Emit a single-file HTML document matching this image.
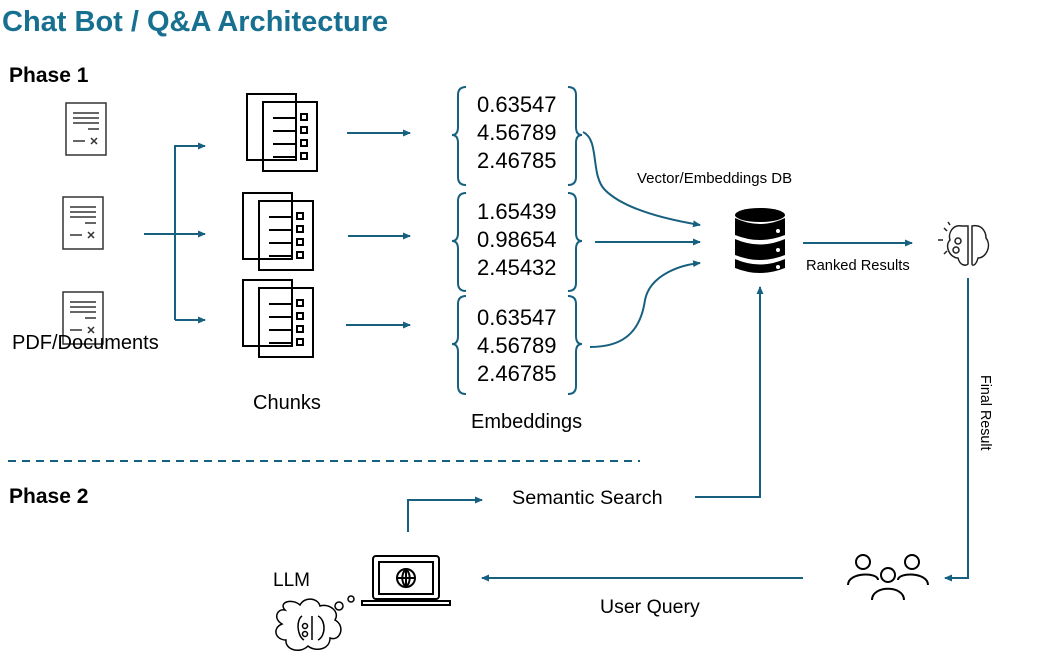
<!DOCTYPE html>
<html><head><meta charset="utf-8"><style>
body{margin:0;background:#fff;width:1041px;height:665px;overflow:hidden;font-family:"Liberation Sans",sans-serif}
</style></head><body>
<svg width="1041" height="665" viewBox="0 0 1041 665" xmlns="http://www.w3.org/2000/svg" font-family="Liberation Sans, sans-serif">
<defs>
<marker id="a" markerWidth="8" markerHeight="8" refX="7" refY="4" orient="auto" markerUnits="userSpaceOnUse"><path d="M0,0.5 L8,4 L0,7.5z" fill="#17607f"/></marker>
<g id="doc"><rect x="0" y="0" width="40" height="52" fill="#fff" stroke="#333" stroke-width="1.5"/><path d="M7,10h26M7,15h26M7,20h26M22,26h11M7,38h12" stroke="#333" stroke-width="1.5"/><path d="M25,35l6,6M31,35l-6,6" stroke="#333" stroke-width="1.5"/></g>
<g id="chunk"><rect x="0" y="0" width="49" height="66" fill="none" stroke="#000" stroke-width="2"/><rect x="16" y="8" width="54" height="69" fill="none" stroke="#000" stroke-width="2"/><path d="M26,24h22M26,37h22M26,50h22M26,63h22" stroke="#000" stroke-width="2"/><rect x="54" y="20" width="6" height="6" fill="none" stroke="#000" stroke-width="2"/><rect x="54" y="33" width="6" height="6" fill="none" stroke="#000" stroke-width="2"/><rect x="54" y="46" width="6" height="6" fill="none" stroke="#000" stroke-width="2"/><rect x="54" y="59" width="6" height="6" fill="none" stroke="#000" stroke-width="2"/></g>
<g id="lb"><path d="M10,0 Q2,0 2,8 V40 Q2,48 -4,48 Q2,48 2,56 V90 Q2,98 10,98" fill="none" stroke="#17607f" stroke-width="2"/></g>
</defs>
<text x="2" y="31" font-size="29" font-weight="bold" fill="#17708f">Chat Bot / Q&amp;A Architecture</text>
<text x="9" y="82" font-size="21" font-weight="bold">Phase 1</text>
<text x="9" y="503" font-size="21" font-weight="bold">Phase 2</text>
<use href="#doc" x="66" y="103"/><use href="#doc" x="63" y="197"/><use href="#doc" x="63" y="292"/>
<text x="12" y="349" font-size="20">PDF/Documents</text>
<g stroke="#17607f" stroke-width="2" fill="none">
<path d="M144,234H205" marker-end="url(#a)"/><path d="M175,320V146H205" marker-end="url(#a)"/><path d="M175,320H205" marker-end="url(#a)"/>
<path d="M347,133H410" marker-end="url(#a)"/><path d="M348,236H410" marker-end="url(#a)"/><path d="M346,325H410" marker-end="url(#a)"/>
<path d="M583,132 C600,140 590,175 605,190 C625,210 670,220 700,225" marker-end="url(#a)"/>
<path d="M595,242H700" marker-end="url(#a)"/>
<path d="M590,347 C620,347 640,335 645,300 C650,275 680,265 700,263" marker-end="url(#a)"/>
<path d="M803,243H912" marker-end="url(#a)"/>
<path d="M968,278V578H945" marker-end="url(#a)"/>
<path d="M803,578H482" marker-end="url(#a)"/>
<path d="M408,532V500H482" marker-end="url(#a)"/>
<path d="M695,497H760V287" marker-end="url(#a)"/>
<path d="M8,461H640" stroke-dasharray="8,6"/>
</g>
<use href="#chunk" x="247" y="94"/><use href="#chunk" x="243" y="193"/><use href="#chunk" x="243" y="280"/>
<text x="253" y="409" font-size="20">Chunks</text>
<use href="#lb" x="456" y="87"/><use href="#lb" x="456" y="193"/><use href="#lb" x="456" y="296"/>
<use href="#lb" transform="translate(578,87) scale(-1,1)"/><use href="#lb" transform="translate(578,193) scale(-1,1)"/><use href="#lb" transform="translate(578,296) scale(-1,1)"/>
<g font-size="22"><text x="477" y="112">0.63547</text><text x="477" y="140">4.56789</text><text x="477" y="168">2.46785</text>
<text x="477" y="219">1.65439</text><text x="477" y="247">0.98654</text><text x="477" y="275">2.45432</text>
<text x="477" y="325">0.63547</text><text x="477" y="353">4.56789</text><text x="477" y="381">2.46785</text></g>
<text x="471" y="428" font-size="20">Embeddings</text>
<text x="637" y="183" font-size="15">Vector/Embeddings DB</text>
<text x="806" y="270" font-size="14.7">Ranked Results</text>
<g fill="#000"><ellipse cx="760" cy="215" rx="25" ry="7"/><path d="M735,218 Q760,230 785,218 V235 Q760,245 735,235Z"/><path d="M735,239 Q760,250 785,239 V255 Q760,265 735,255Z"/><path d="M735,259 Q760,270 785,259 V268 Q760,278 735,268Z"/></g>
<g fill="#fff"><circle cx="778" cy="231" r="2"/><circle cx="778" cy="250" r="2"/><circle cx="778" cy="267" r="2"/></g>
<g fill="none" stroke="#222" stroke-width="1.5"><path d="M962,226 C952,224 948,234 950,240 C944,246 950,258 958,258 C960,266 966,266 968,264V226Z"/><path d="M972,226 C982,224 986,232 986,238 C992,246 986,258 978,258 C976,266 972,266 972,264Z"/><circle cx="958" cy="241" r="3"/><circle cx="956" cy="250" r="3"/><path d="M944,228l3,3M938,240h5M944,254l3,-3M948,222l2,3"/></g>
<text transform="translate(981,375) rotate(90)" font-size="14.3">Final Result</text>
<g fill="none" stroke="#000" stroke-width="2"><circle cx="863" cy="562" r="7"/><circle cx="912" cy="562" r="7"/><circle cx="888" cy="575" r="7"/><path d="M848,585 C848,572 878,572 878,580M898,580 C898,572 928,572 928,585M872,600 C872,585 904,585 904,600"/></g>
<text x="600" y="613" font-size="19.5">User Query</text>
<g fill="none" stroke="#000" stroke-width="2"><rect x="373" y="556" width="66" height="43" rx="3"/><rect x="379" y="562" width="54" height="32"/><path d="M362,601H450V605H362Z"/><circle cx="406" cy="578" r="9"/><path d="M397,578H415M406,569V587M406,569C401,574 401,582 406,587C411,582 411,574 406,569"/></g>
<text x="512" y="504" font-size="19.8">Semantic Search</text>
<text x="273" y="586" font-size="19">LLM</text>
<g fill="none" stroke="#000" stroke-width="1.5"><circle cx="339" cy="606" r="4"/><circle cx="351" cy="599" r="3"/><path d="M285,610 C278,602 292,598 300,605 C305,596 318,598 320,606 C330,603 340,612 335,620 C346,626 340,642 330,638 C330,650 315,652 308,646 C300,654 285,650 286,640 C275,640 272,628 282,624 C272,618 278,608 285,610Z"/><circle cx="305" cy="626" r="2.5"/><circle cx="305" cy="634" r="2.5"/><path d="M312,616V640M302,616C296,620 297,636 304,640M318,616C326,620 326,636 318,640"/></g>
</svg>
</body></html>
